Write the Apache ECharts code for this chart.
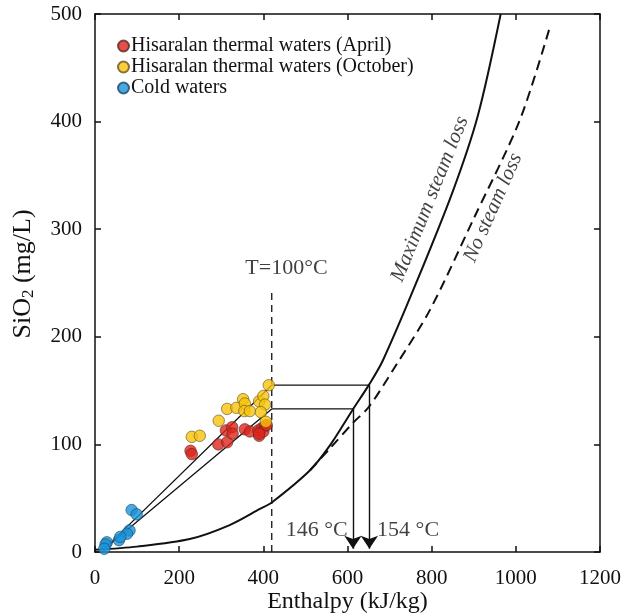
<!DOCTYPE html>
<html>
<head>
<meta charset="utf-8">
<script src="https://cdn.jsdelivr.net/npm/echarts@6/dist/echarts.min.js"></script>
<style>html,body{margin:0;padding:0;background:#fff}#c{width:635px;height:616px}</style>
</head>
<body>
<div id="c"></div>
<script>
// Data (Enthalpy kJ/kg, SiO2 mg/L)
const april = [[227,94],[230,91],[293,100],[314,102],[311,113],[326,116],[327,110],[356,114],[368,112],[390,108],[388,113],[396,115],[404,117],[400,112],[390,110],[408,118]];
const october = [[230,107],[249,108],[294,122],[314,133],[336,134],[352,142],[356,138],[355,131],[368,131],[390,140],[400,145],[404,137],[394,130],[413,155],[406,121]];
const cold = [[87,39],[99,35],[82,20],[76,17],[57,11],[60,14],[28,9],[25,7],[22,3]];
const maxSteamX = [0,100,225,320,392,420,511,560,612,652,684,760,850,910,964];
const maxSteamY = [2,5,12,25,40,46,76,100,132,156,178,247,335,406,500];
const noSteamX = [511,560,613,651,716,796,900,1009,1081];
const noSteamY = [76,97,120,135,174,225,310,401,488];
const mixUpper = [[20,2],[420,155],[652,155]];
const mixLower = [[20,2],[420,133],[613,133]];
const arrows = [[[613,133],[613,3]],[[652,155],[652,3]]];
const tLine = [[420,0],[420,245]];
const xTicks = [0,200,400,600,800,1000,1200];
const yTicks = [0,100,200,300,400,500];

const zip = (a,b)=>a.map((v,i)=>[v,b[i]]);
const FONT = 'Liberation Serif';
const INK = '#111';
const chart = echarts.init(document.getElementById('c'));
const axisCommon = {
  min: 0, axisLine:{show:true,onZero:false,lineStyle:{color:INK,width:1.5}},
  axisTick:{show:true,inside:true,length:6,lineStyle:{color:INK,width:1.5}},
  splitLine:{show:false}
};
chart.setOption({
  animation:false,
  grid:{left:95,right:35,top:14,bottom:64,outerBoundsMode:'none'},
  legend:{
    orient:'vertical', left:112, top:31, itemGap:1, itemWidth:11, itemHeight:11,
    data:['Hisaralan thermal waters (April)','Hisaralan thermal waters (October)','Cold waters'],
    textStyle:{fontFamily:FONT,fontSize:20,color:INK,padding:[0,0,0,-3]}
  },
  xAxis:[
    Object.assign({},axisCommon,{type:'value',max:1200,interval:200,position:'bottom',
      name:'Enthalpy (kJ/kg)',nameLocation:'middle',nameGap:38,nameMoveOverlap:false,
      nameTextStyle:{fontFamily:FONT,fontSize:24,color:INK},
      axisLabel:{fontFamily:FONT,fontSize:21,color:INK,margin:16,formatter:v=>String(v)}}),
    Object.assign({},axisCommon,{type:'value',max:1200,interval:200,position:'top',axisLabel:{show:false}})
  ],
  yAxis:[
    Object.assign({},axisCommon,{type:'value',max:500,interval:100,position:'left',
      name:'{p|}{a|SiO}{b|2}{a| (mg/L)}',nameLocation:'middle',nameGap:58,nameMoveOverlap:false,
      nameTextStyle:{rich:{p:{width:18},a:{fontFamily:FONT,fontSize:26,color:INK},b:{fontFamily:FONT,fontSize:17,color:INK,padding:[11,0,0,0]}}},
      axisLabel:{fontFamily:FONT,fontSize:21,color:INK,margin:13,formatter:v=>String(v)}}),
    Object.assign({},axisCommon,{type:'value',max:500,interval:100,position:'right',axisLabel:{show:false}})
  ],
  series:[
    {type:'line',data:zip(maxSteamX,maxSteamY),smooth:0.3,symbol:'none',lineStyle:{color:INK,width:2},z:2},
    {type:'line',data:zip(noSteamX,noSteamY),smooth:0.3,symbol:'none',lineStyle:{color:INK,width:2,type:[10,6]},z:2},
    {type:'line',data:mixUpper,symbol:'none',lineStyle:{color:INK,width:1.3},z:2},
    {type:'line',data:mixLower,symbol:'none',lineStyle:{color:INK,width:1.3},z:2},
    {type:'line',data:tLine,symbol:'none',lineStyle:{color:INK,width:1.3,type:[7,5]},z:2},
    {type:'lines',coordinateSystem:'cartesian2d',data:arrows.map(c=>({coords:c})),
      symbol:['none','arrow'],symbolSize:[0,13],lineStyle:{color:INK,width:1.4,opacity:1},z:3},
    {name:'Hisaralan thermal waters (April)',type:'scatter',data:april,symbol:'circle',symbolSize:11.5,
      itemStyle:{color:'#de261d',borderColor:'#5a2a20',borderWidth:0.8},z:5},
    {name:'Hisaralan thermal waters (October)',type:'scatter',data:october,symbol:'circle',symbolSize:11.5,
      itemStyle:{color:'#f8c30a',borderColor:'#6a5520',borderWidth:0.8},z:6},
    {name:'Cold waters',type:'scatter',data:cold,symbol:'circle',symbolSize:11.5,
      itemStyle:{color:'#1a92d8',borderColor:'#1d4a6a',borderWidth:0.8},z:5},
    {type:'scatter',symbolSize:0,silent:true,z:7,
      data:[
        {value:[455,264],label:{show:true,formatter:'T=100°C'}},
        {value:[527,20],label:{show:true,formatter:'146 °C'}},
        {value:[744,20],label:{show:true,formatter:'154 °C'}},
        {value:[796,328],label:{show:true,formatter:'Maximum steam loss',rotate:68,fontStyle:'italic',fontSize:21}},
        {value:[946,320],label:{show:true,formatter:'No steam loss',rotate:66,fontStyle:'italic',fontSize:21}}
      ],
      label:{position:'inside',fontFamily:FONT,fontSize:22,color:INK}}
  ]
});
</script>
</body>
</html>
